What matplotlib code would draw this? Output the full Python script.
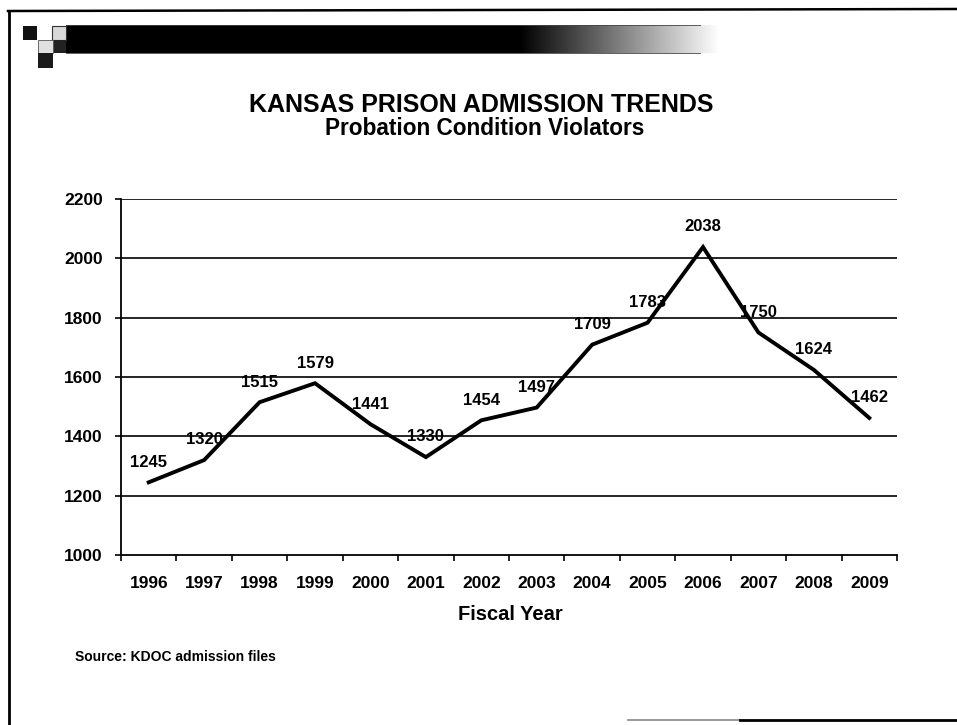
import numpy as np
import matplotlib
matplotlib.use("Agg")
import matplotlib.pyplot as plt
from matplotlib.patches import Rectangle
from matplotlib.lines import Line2D

plt.rcParams["font.family"] = ["Liberation Sans", "DejaVu Sans"]
plt.rcParams["font.weight"] = "bold"

years = ["1996", "1997", "1998", "1999", "2000", "2001", "2002",
         "2003", "2004", "2005", "2006", "2007", "2008", "2009"]
admissions = [1245, 1320, 1515, 1579, 1441, 1330, 1454,
              1497, 1709, 1783, 2038, 1750, 1624, 1462]
y_ticks = [1000, 1200, 1400, 1600, 1800, 2000, 2200]

W, H = 957, 725
fig = plt.figure(figsize=(W / 100, H / 100), dpi=100)
fig.patch.set_facecolor("white")


def fx(px):
    return px / W


def fy(py):
    return 1 - py / H


# ---- slide frame and header decoration ----
deco = fig.add_axes([0, 0, 1, 1], zorder=0)
deco.set_xlim(0, W)
deco.set_ylim(H, 0)
deco.axis("off")

deco.add_line(Line2D([8, W], [11, 9], color="black", lw=1.8))
deco.add_line(Line2D([9, 9], [11, H], color="black", lw=2.0))
deco.add_line(Line2D([628, 740], [720, 720], color="#888888", lw=1.2))
deco.add_line(Line2D([740, W], [720, 720], color="black", lw=2.0))

# gradient band: solid black fading out to the right
grad_x = np.linspace(66, 730, 600)
fade = np.clip((grad_x - 520) / (720 - 520), 0, 1)
band = np.tile(fade, (10, 1))
deco.imshow(band, cmap="gray", vmin=0, vmax=1, aspect="auto",
            extent=[66, 730, 53, 25], interpolation="bilinear", zorder=1)
deco.add_line(Line2D([66, 700], [25, 25], color="#444444", lw=0.6))
deco.add_line(Line2D([66, 700], [53, 53], color="#444444", lw=0.6))

deco.add_patch(Rectangle((23, 26), 14, 14, facecolor="#111111", edgecolor="none", zorder=2))
deco.add_patch(Rectangle((52, 26), 14, 14, facecolor="#d8d8d8", edgecolor="#333333", lw=0.8, zorder=2))
deco.add_patch(Rectangle((53, 40), 13, 13, facecolor="#222222", edgecolor="none", zorder=2))
deco.add_patch(Rectangle((38, 40), 15, 13, facecolor="#e0e0e0", edgecolor="#555555", lw=0.6, zorder=2))
deco.add_patch(Rectangle((38, 53), 15, 15, facecolor="#1a1a1a", edgecolor="none", zorder=2))

# ---- titles ----
fig.text(fx(481), fy(112), "KANSAS PRISON ADMISSION TRENDS", ha="center", va="baseline",
         fontsize=18, fontweight="bold", color="black")
fig.text(fx(485), fy(135), "Probation Condition Violators", ha="center", va="baseline",
         fontsize=16.3, fontweight="bold", color="black")

# ---- chart ----
left, right, top, bottom = 121, 897, 199, 555
ax = fig.add_axes([fx(left), fy(bottom), fx(right - left), (bottom - top) / H], zorder=2)
ax.set_facecolor("none")

x = np.arange(len(years))
ax.plot(x, admissions, color="black", lw=2.8, solid_joinstyle="miter", zorder=3)

for xi, v in zip(x, admissions):
    ax.annotate(str(v), (xi, v), xytext=(0, 14.5), textcoords="offset points",
                ha="center", va="center", fontsize=12, fontweight="bold",
                color="black", zorder=4)

ax.set_xlim(-0.5, len(years) - 0.5)
ax.set_ylim(y_ticks[0], y_ticks[-1])
ax.set_yticks(y_ticks)
ax.set_yticklabels([str(t) for t in y_ticks], fontsize=12.5, fontweight="bold")
ax.set_xticks(x)
ax.set_xticklabels(years, fontsize=12.5, fontweight="bold")
ax.set_xticks(np.arange(-0.5, len(years)), minor=True)
ax.tick_params(axis="x", which="major", length=0, pad=15)
ax.tick_params(axis="x", which="minor", length=4, width=1.2, direction="out", color="black")
ax.tick_params(axis="y", which="major", length=4, width=1.2, direction="out", pad=9, color="black")

for t in y_ticks[1:]:
    ax.axhline(t, color="black", lw=1.2, zorder=1)

for side in ("top", "right"):
    ax.spines[side].set_visible(False)
for side in ("left", "bottom"):
    ax.spines[side].set_linewidth(1.3)
    ax.spines[side].set_color("black")

fig.text(fx(510), fy(614), "Fiscal Year", ha="center", va="center",
         fontsize=14.5, fontweight="bold", color="black")
fig.text(fx(75), fy(657), "Source: KDOC admission files", ha="left", va="center",
         fontsize=10, fontweight="bold", color="black")

fig.savefig("out.png", dpi=100, facecolor="white")
